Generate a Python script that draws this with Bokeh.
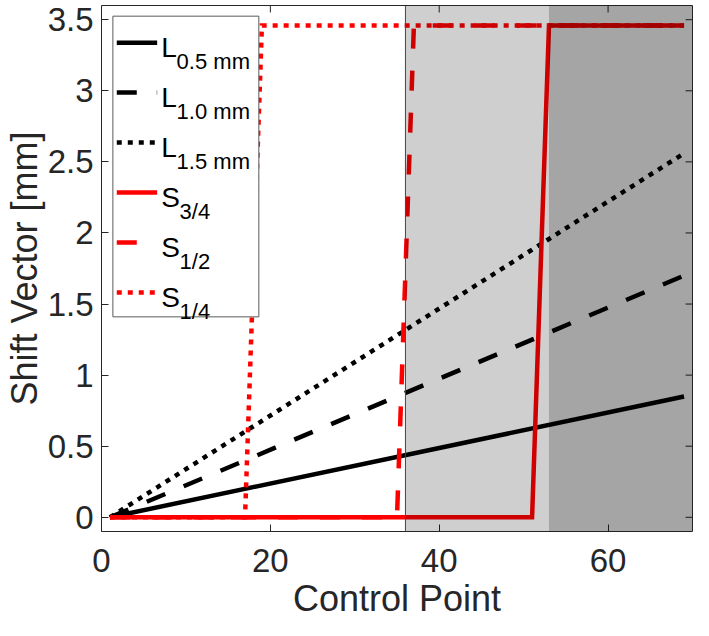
from bokeh.plotting import figure
from bokeh.models import (BoxAnnotation, Span, FixedTicker, Title,
                          CustomJSTickFormatter, Range1d)
from bokeh.core.properties import value
from bokeh.embed import file_html
from bokeh.resources import INLINE

# ---------------- data ----------------
x_ticks = [0, 20, 40, 60]
y_ticks = [0, 0.5, 1, 1.5, 2, 2.5, 3, 3.5]

L_x = [1, 69]
L_05 = [0, 0.85]
L_10 = [0, 1.70]
L_15 = [0, 2.56]

S34_x = [1, 51, 53, 69]
S34_y = [0, 0, 3.46, 3.46]
S12_x = [1, 35, 37, 69]
S12_y = [0, 0, 3.46, 3.46]
S14_x = [1, 17, 19, 69]
S14_y = [0, 0, 3.46, 3.46]

light_region = [36, 70]
dark_region = [53, 70]

legend_main = ["L", "L", "L", "S", "S", "S"]
legend_sub = ["0.5 mm", "1.0 mm", "1.5 mm", "3/4", "1/2", "1/4"]

x_label = "Control Point"
y_label = "Shift Vector [mm]"

# ---------------- style / layout ----------------
FONT = "Liberation Sans"
TXT = "#262626"
RED = "#ff0000"
LW = 4.5

X0, X1 = 0, 70
Y0, Y1 = -0.1, 3.6

W, H = 693, 620
B_LEFT, B_RIGHT, B_TOP, B_BOTTOM = 94, 1, 5, 88
FRAME_W = W - B_LEFT - B_RIGHT
FRAME_H = H - B_TOP - B_BOTTOM
TICK_LEN = 7

p = figure(width=W, height=H, output_backend="svg", toolbar_location=None,
           x_range=Range1d(X0, X1), y_range=Range1d(Y0, Y1),
           min_border_left=B_LEFT, min_border_right=B_RIGHT,
           min_border_top=B_TOP, min_border_bottom=B_BOTTOM)
p.background_fill_color = "white"
p.border_fill_color = "white"
p.xgrid.visible = False
p.ygrid.visible = False
p.outline_line_color = TXT
p.outline_line_width = 1
p.outline_line_alpha = 1

for ax, ticks in ((p.xaxis[0], x_ticks), (p.yaxis[0], y_ticks)):
    ax.ticker = FixedTicker(ticks=ticks)
    ax.major_tick_in = TICK_LEN
    ax.major_tick_out = 0
    ax.major_tick_line_color = TXT
    ax.major_tick_line_width = 1
    ax.minor_tick_line_color = None
    ax.axis_line_color = None
    ax.major_label_text_font = FONT
    ax.major_label_text_color = TXT
    ax.major_label_text_font_size = "33px"

xa = p.xaxis[0]
xa.major_label_standoff = 17

ya = p.yaxis[0]
ya.formatter = CustomJSTickFormatter(code="return tick.toString();")
ya.axis_label = y_label
ya.axis_label_text_font = FONT
ya.axis_label_text_font_size = "36px"
ya.axis_label_text_font_style = "normal"
ya.axis_label_text_color = TXT
ya.major_label_standoff = 8
ya.axis_label_standoff = 0

# x-axis title below the tick labels
p.add_layout(Title(text=x_label, align="center", text_font=FONT,
                   text_font_size="36px", text_font_style="normal",
                   text_color=TXT, standoff=3, offset=0), "below")

# ticks on the top and right edges (box on)
dy = TICK_LEN * (Y1 - Y0) / FRAME_H
dx = TICK_LEN * (X1 - X0) / FRAME_W
p.segment(x0=x_ticks, y0=[Y1] * len(x_ticks), x1=x_ticks, y1=[Y1 - dy] * len(x_ticks),
          line_color=TXT, line_width=1)
p.segment(x0=[X1] * len(y_ticks), y0=y_ticks, x1=[X1 - dx] * len(y_ticks), y1=y_ticks,
          line_color=TXT, line_width=1)

# ---------------- series ----------------
common = dict(line_width=LW, line_join="miter")
p.line(L_x, L_05, line_color="black", **common)
p.line(L_x, L_10, line_color="black", line_dash="20 20", **common)
p.line(L_x, L_15, line_color="black", line_dash="5 6", **common)
p.line(S34_x, S34_y, line_color=RED, **common)
p.line(S12_x, S12_y, line_color=RED, line_dash="20 22", **common)
p.line(S14_x, S14_y, line_color=RED, line_dash="5 6", **common)

# ---------------- shaded regions ----------------
p.add_layout(BoxAnnotation(left=light_region[0], right=light_region[1],
                           fill_color="black", fill_alpha=0.19, line_color=None))
p.add_layout(BoxAnnotation(left=dark_region[0], right=dark_region[1],
                           fill_color="black", fill_alpha=0.2, line_color=None))
p.add_layout(Span(location=light_region[0], dimension="height",
                  line_color="#444444", line_width=1))

# ---------------- legend (drawn manually for subscripts) ----------------
def fx(px):
    return X0 + (px - 99.3) / 607.4 * (X1 - X0)

def fy(py):
    return Y1 - (py - 1.0) / 542.3 * (Y1 - Y0)

p.quad(left=[fx(111)], right=[fx(261)], top=[fy(12)], bottom=[fy(322)],
       fill_color="white", line_color="#5a5a5a", line_width=1)

styles = [("black", None), ("black", "20 20"), ("black", "5 6"),
          (RED, None), (RED, "20 22"), (RED, "5 6")]
row_py = [39.3 + 51.5 * i for i in range(len(legend_main))]
for i, (col, dash) in enumerate(styles):
    kw = dict(line_color=col, line_width=LW)
    if dash:
        kw["line_dash"] = dash
    p.line([fx(115), fx(156.5)], [fy(row_py[i])] * 2, **kw)

main_x = [fx(160.7)] * len(legend_main)
main_y = [fy(r + 5) for r in row_py]
sub_x = [fx(176.5) if m == "L" else fx(179.5) for m in legend_main]
sub_y = [fy(r + 19.5) for r in row_py]
p.text(x=main_x, y=main_y, text=legend_main, text_font=value(FONT),
       text_font_size="28px", text_baseline="alphabetic", text_align="left",
       text_color="black")
p.text(x=sub_x, y=sub_y, text=legend_sub, text_font=value(FONT),
       text_font_size="22px", text_baseline="alphabetic", text_align="left",
       text_color="black")

open("out.html", "w").write(file_html(p, INLINE))
